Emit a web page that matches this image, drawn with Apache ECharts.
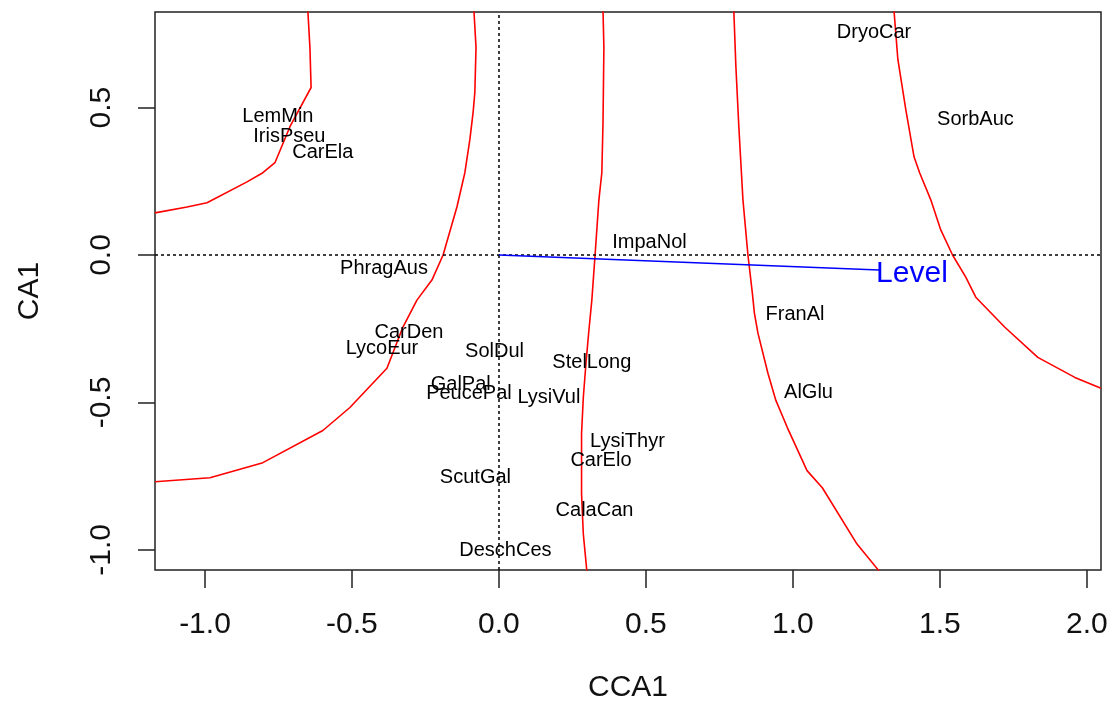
<!DOCTYPE html>
<html lang="en">
<head>
    <meta charset="UTF-8">
    <title>CCA ordination with Level surface</title>
    <style>
        html, body {
            margin: 0;
            padding: 0;
            background: #ffffff;
        }
        #main {
            width: 1117px;
            height: 715px;
        }
    </style>
    <script type="text/javascript" src="https://cdn.jsdelivr.net/npm/echarts@6/dist/echarts.min.js"></script>
</head>
<body>
<div id="main"></div>
<script type="text/javascript">
    // tick positions on both axes
    var xTicks = [-1.0, -0.5, 0.0, 0.5, 1.0, 1.5, 2.0];
    var yTicks = [-1.0, -0.5, 0.0, 0.5];

    // species scores (label positions)
    var speciesNames = ['LemMin', 'IrisPseu', 'CarEla', 'PhragAus', 'ImpaNol', 'DryoCar', 'SorbAuc',
        'CarDen', 'LycoEur', 'SolDul', 'GalPal', 'PeucePal', 'ScutGal', 'DeschCes', 'LysiVul',
        'StelLong', 'FranAl', 'AlGlu', 'LysiThyr', 'CarElo', 'CalaCan'];
    var speciesX = [-0.752, -0.713, -0.599, -0.391, 0.512, 1.276, 1.621,
        -0.306, -0.398, -0.015, -0.130, -0.102, -0.080, 0.022, 0.170,
        0.316, 1.007, 1.053, 0.437, 0.347, 0.325];
    var speciesY = [0.469, 0.401, 0.347, -0.044, 0.041, 0.755, 0.459,
        -0.262, -0.316, -0.327, -0.440, -0.470, -0.755, -1.003, -0.483,
        -0.364, -0.201, -0.466, -0.633, -0.697, -0.867];

    // environmental vector
    var envNames = ['Level'];
    var envX = [1.293];
    var envY = [-0.051];
    var envLabelX = [1.405];
    var envLabelY = [-0.064];

    // fitted surface contours (ordisurf)
    var c1X = [-0.650, -0.643, -0.639, -0.711, -0.762, -0.803, -0.857, -0.993, -1.061, -1.170];
    var c1Y = [0.827, 0.704, 0.568, 0.435, 0.313, 0.279, 0.248, 0.177, 0.163, 0.143];
    var c2X = [-0.085, -0.078, -0.082, -0.088, -0.099, -0.116, -0.143, -0.190, -0.228, -0.279,
        -0.327, -0.381, -0.507, -0.599, -0.803, -0.983, -1.170];
    var c2Y = [0.827, 0.704, 0.551, 0.483, 0.391, 0.279, 0.163, 0.0, -0.085, -0.153,
        -0.245, -0.384, -0.517, -0.595, -0.704, -0.755, -0.769];
    var c3X = [0.354, 0.357, 0.354, 0.350, 0.340, 0.327, 0.316, 0.306, 0.296, 0.287, 0.281, 0.281, 0.287, 0.299];
    var c3Y = [0.827, 0.704, 0.449, 0.279, 0.187, 0.0, -0.153, -0.255, -0.367, -0.483, -0.605, -0.810, -0.946, -1.071];
    var c4X = [0.799, 0.806, 0.816, 0.830, 0.847, 0.862, 0.869, 0.881, 0.915, 0.942, 0.981, 1.048, 1.100, 1.218, 1.293];
    var c4Y = [0.827, 0.639, 0.435, 0.187, 0.0, -0.129, -0.197, -0.265, -0.401, -0.493, -0.585, -0.731, -0.789, -0.980, -1.071];
    var c5X = [1.344, 1.357, 1.384, 1.412, 1.431, 1.469, 1.503, 1.543, 1.588, 1.622, 1.721, 1.833, 1.959, 2.048];
    var c5Y = [0.827, 0.663, 0.493, 0.333, 0.279, 0.187, 0.085, 0.0, -0.075, -0.143, -0.245, -0.347, -0.415, -0.452];

    function pairs(xs, ys) {
        var out = [];
        for (var i = 0; i < xs.length; i++) {
            out.push([xs[i], ys[i]]);
        }
        return out;
    }

    var font = 'Liberation Sans, Arial, sans-serif';
    var chart = echarts.init(document.getElementById('main'));

    var contours = [[c1X, c1Y], [c2X, c2Y], [c3X, c3Y], [c4X, c4Y], [c5X, c5Y]];
    var series = [];
    contours.forEach(function (c) {
        series.push({
            type: 'line',
            data: pairs(c[0], c[1]),
            showSymbol: false,
            symbol: 'none',
            silent: true,
            lineStyle: {color: '#ff0000', width: 1.6},
            z: 3
        });
    });

    // dotted zero lines + blue arrow
    series.push({
        type: 'line',
        data: [],
        markLine: {
            silent: true,
            symbol: 'none',
            label: {show: false},
            lineStyle: {color: '#000000', type: [3, 3], width: 1.5},
            data: [{xAxis: 0}, {yAxis: 0}]
        },
        z: 2
    });
    series.push({
        type: 'line',
        data: [],
        markLine: {
            silent: true,
            symbol: ['none', 'arrow'],
            symbolSize: [0, 8],
            label: {show: false},
            lineStyle: {color: '#0000ff', type: 'solid', width: 1.5},
            data: [[{coord: [0, 0]}, {coord: [envX[0], envY[0]]}]]
        },
        z: 4
    });

    // species labels
    var spData = speciesNames.map(function (n, i) {
        return {name: n, value: [speciesX[i], speciesY[i]]};
    });
    series.push({
        type: 'scatter',
        data: spData,
        symbolSize: 1,
        itemStyle: {color: 'rgba(0,0,0,0)', opacity: 1},
        label: {
            show: true,
            position: 'inside',
            formatter: '{b}',
            color: '#000000',
            opacity: 1,
            fontFamily: font,
            fontSize: 20
        },
        z: 5
    });

    // environmental label
    series.push({
        type: 'scatter',
        data: envNames.map(function (n, i) {
            return {name: n, value: [envLabelX[i], envLabelY[i]]};
        }),
        symbolSize: 1,
        itemStyle: {color: 'rgba(0,0,0,0)', opacity: 1},
        label: {
            show: true,
            position: 'inside',
            formatter: '{b}',
            color: '#0000ff',
            opacity: 1,
            fontFamily: font,
            fontSize: 30
        },
        z: 5
    });

    var option = {
        animation: false,
        backgroundColor: '#ffffff',
        grid: {
            left: 155,
            right: 16,
            top: 12,
            bottom: 145,
            show: true,
            borderColor: '#222222',
            borderWidth: 1.5,
            backgroundColor: 'transparent'
        },
        xAxis: {
            type: 'value',
            min: -1.170,
            max: 2.048,
            name: 'CCA1',
            nameLocation: 'middle',
            nameGap: 103,
            nameTextStyle: {fontFamily: font, fontSize: 30, color: '#111111'},
            splitLine: {show: false},
            axisLine: {show: false, onZero: false},
            axisTick: {
                show: true,
                customValues: xTicks,
                length: 18,
                lineStyle: {color: '#222222', width: 1.5}
            },
            axisLabel: {
                customValues: xTicks,
                formatter: function (v) { return v.toFixed(1); },
                fontFamily: font,
                fontSize: 30,
                color: '#111111',
                margin: 40
            }
        },
        yAxis: {
            type: 'value',
            min: -1.068,
            max: 0.824,
            name: 'CA1',
            nameLocation: 'middle',
            nameGap: 110,
            nameRotate: 90,
            nameTextStyle: {fontFamily: font, fontSize: 30, color: '#111111'},
            splitLine: {show: false},
            axisLine: {show: false, onZero: false},
            axisTick: {
                show: true,
                customValues: yTicks,
                length: 17,
                lineStyle: {color: '#222222', width: 1.5}
            },
            axisLabel: {
                customValues: yTicks,
                formatter: function (v) { return v.toFixed(1); },
                rotate: 90,
                fontFamily: font,
                fontSize: 30,
                color: '#111111',
                margin: 38
            }
        },
        series: series
    };
    chart.setOption(option);
</script>
</body>
</html>
